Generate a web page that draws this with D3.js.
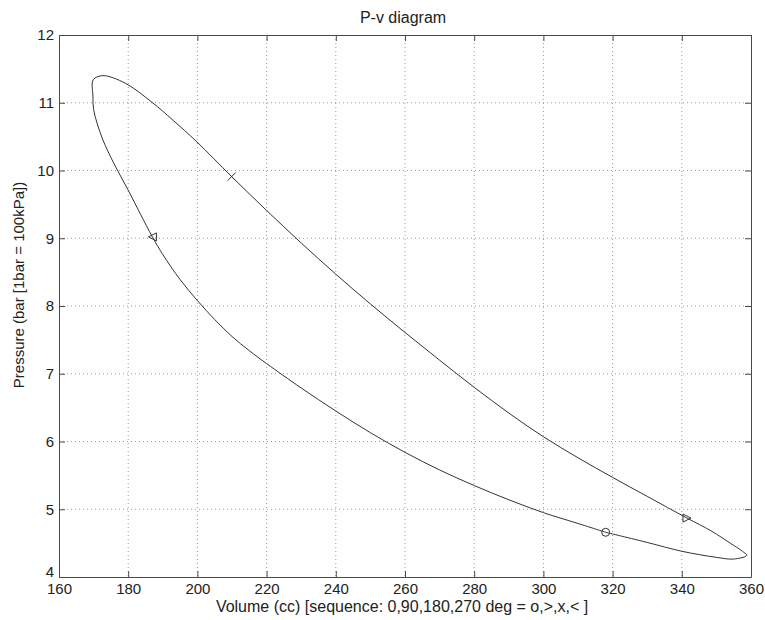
<!DOCTYPE html>
<html>
<head>
<meta charset="utf-8">
<script src="https://cdn.jsdelivr.net/npm/d3@7"></script>
<style>
  html, body { margin: 0; padding: 0; background: #fff; }
  svg text { font-family: "Liberation Sans", Arial, sans-serif; fill: #222; }
</style>
</head>
<body>
<svg id="chart" width="765" height="620"></svg>
<script>
// Closed P-v loop, traversed from crank angle 0 deg
const volume = [
  318.0, 330.0, 340.0, 350.0, 355.0, 358.8,
  357.5, 354.0, 348.5, 341.5, 330.0, 320.0, 310.0, 300.0, 290.0, 280.0, 270.0,
  260.0, 250.0, 240.0, 230.0, 220.0, 209.9, 199.9, 193.0, 186.8, 179.1, 172.7,
  169.9, 169.8, 170.0, 171.0, 172.7, 175.9, 180.0, 183.5, 187.0, 190.0, 195.0,
  200.0, 205.0, 210.0, 215.0, 220.0, 230.0, 240.0, 250.0, 260.0, 270.0, 280.0, 290.0,
  300.0, 310.0, 318.0
];
const pressure = [
  4.66, 4.51, 4.38, 4.29, 4.265, 4.32,
  4.38, 4.50, 4.68, 4.87, 5.19, 5.47, 5.76, 6.07, 6.42, 6.80, 7.20,
  7.61, 8.03, 8.47, 8.93, 9.41, 9.91, 10.42, 10.74, 11.01, 11.29, 11.40,
  11.34, 11.10, 10.90, 10.70, 10.45, 10.10, 9.71, 9.36, 9.02, 8.76, 8.39,
  8.08, 7.80, 7.55, 7.34, 7.15, 6.79, 6.45, 6.13, 5.84, 5.58, 5.35, 5.14,
  4.95, 4.79, 4.66
];

// Positions at 0, 90, 180, 270 deg
const markerVolume = [318.0, 341.5, 209.9, 187.0];
const markerPressure = [4.66, 4.87, 9.91, 9.02];
const markerSymbol = ["o", ">", "x", "<"];

const xTicks = [160, 180, 200, 220, 240, 260, 280, 300, 320, 340, 360];
const yTicks = [4, 5, 6, 7, 8, 9, 10, 11, 12];

const titleText = "P-v diagram";
const xLabel = "Volume (cc) [sequence: 0,90,180,270 deg = o,>,x,< ]";
const yLabel = "Pressure (bar [1bar = 100kPa])";

const svg = d3.select("#chart");
const plotL = 59, plotR = 751, plotT = 35, plotB = 577;

const x = d3.scaleLinear().domain([160, 360]).range([plotL, plotR]);
const y = d3.scaleLinear().domain([4, 12]).range([plotB, plotT]);

const frameColor = "#4a4a4a";
const lineColor = "#333";

// dotted grid
const grid = svg.append("g");
grid.selectAll("line.vx").data(xTicks.slice(1, -1)).join("line")
  .attr("x1", d => x(d)).attr("x2", d => x(d))
  .attr("y1", plotT).attr("y2", plotB)
  .attr("stroke", "#9a9a9a").attr("stroke-width", 1)
  .attr("stroke-dasharray", "1,3");
grid.selectAll("line.hy").data(yTicks.slice(1, -1)).join("line")
  .attr("y1", d => y(d)).attr("y2", d => y(d))
  .attr("x1", plotL).attr("x2", plotR)
  .attr("stroke", "#9a9a9a").attr("stroke-width", 1)
  .attr("stroke-dasharray", "1,3");

// axes with inward ticks on all four sides
const tickLen = 6;
const xAxisB = d3.axisBottom(x).tickValues(xTicks).tickSizeInner(-tickLen).tickSizeOuter(0).tickPadding(6);
const xAxisT = d3.axisTop(x).tickValues(xTicks).tickSizeInner(-tickLen).tickSizeOuter(0).tickFormat("");
const yAxisL = d3.axisLeft(y).tickValues(yTicks).tickSizeInner(-tickLen).tickSizeOuter(0).tickPadding(5);
const yAxisR = d3.axisRight(y).tickValues(yTicks).tickSizeInner(-tickLen).tickSizeOuter(0).tickFormat("");

function style(g) {
  g.selectAll("path").attr("stroke", frameColor);
  g.selectAll("line").attr("stroke", frameColor);
  g.selectAll("text").attr("font-size", 15).attr("fill", "#222")
    .attr("font-family", "'Liberation Sans', Arial, sans-serif");
}

svg.append("g").attr("transform", `translate(0,${plotB})`).call(xAxisB).call(style);
svg.append("g").attr("transform", `translate(0,${plotT})`).call(xAxisT).call(style);
const gy = svg.append("g").attr("transform", `translate(${plotL},0)`).call(yAxisL).call(style);
// lift the lowest y label clear of the first x label
gy.selectAll(".tick text").filter(d => d === yTicks[0]).attr("dy", "-0.05em");

svg.append("g").attr("transform", `translate(${plotR},0)`).call(yAxisR).call(style);

// the loop
const pts = volume.map((v, i) => [v, pressure[i]]);
svg.append("path")
  .datum(pts)
  .attr("fill", "none")
  .attr("stroke", lineColor)
  .attr("stroke-width", 1)
  .attr("d", d3.line().x(d => x(d[0])).y(d => y(d[1])).curve(d3.curveCatmullRom.alpha(0.5)));

// angle markers
const mk = svg.append("g").attr("fill", "none").attr("stroke", lineColor).attr("stroke-width", 1);
markerSymbol.forEach((s, i) => {
  const cx = x(markerVolume[i]), cy = y(markerPressure[i]);
  const r = 4;
  if (s === "o") {
    mk.append("circle").attr("cx", cx).attr("cy", cy).attr("r", r);
  } else if (s === "x") {
    mk.append("path").attr("d", `M${cx - r},${cy - r}L${cx + r},${cy + r}M${cx - r},${cy + r}L${cx + r},${cy - r}`);
  } else if (s === ">") {
    mk.append("path").attr("d", `M${cx + r},${cy}L${cx - r},${cy - r}L${cx - r},${cy + r}Z`);
  } else if (s === "<") {
    mk.append("path").attr("d", `M${cx - r},${cy}L${cx + r},${cy - r}L${cx + r},${cy + r}Z`);
  }
});

// title and axis labels
svg.append("text").attr("x", 403).attr("y", 23)
  .attr("text-anchor", "middle").attr("font-size", 16).text(titleText);
svg.append("text").attr("x", 402).attr("y", 612)
  .attr("text-anchor", "middle").attr("font-size", 16).text(xLabel);
svg.append("text")
  .attr("transform", `translate(24,285) rotate(-90)`)
  .attr("text-anchor", "middle").attr("font-size", 15).text(yLabel);
</script>
</body>
</html>
